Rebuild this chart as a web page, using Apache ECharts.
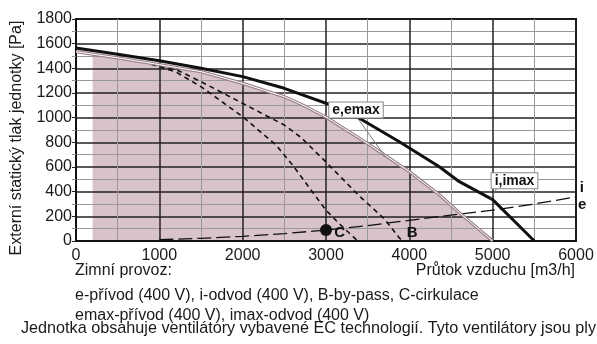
<!DOCTYPE html>
<html>
<head>
<meta charset="utf-8">
<script src="https://cdn.jsdelivr.net/npm/echarts@6/dist/echarts.min.js"></script>
<style>
html, body { margin: 0; padding: 0; background: #fff; }
#chart { width: 597px; height: 344px; }
</style>
</head>
<body>
<div id="chart"></div>
<script>
// hodnoty [m3/h, Pa]
const imaxCurve = [[0,1565],[500,1515],[1000,1462],[1500,1400],[2000,1333],[2500,1238],[2700,1189],[3000,1117],[3400,995],[3880,805],[4360,602],[4600,481],[5000,335],[5500,0]];
const emaxCurve = [[0,1535],[200,1515],[500,1485],[1000,1430],[1500,1373],[2000,1278],[2500,1170],[2700,1110],[3000,1005],[3500,790],[4000,563],[4360,375],[4600,230],[5000,0]];
const bypassCurve = [[900,1436],[1200,1390],[1500,1292],[2000,1116],[2500,940],[2700,840],[3000,640],[3400,365],[3700,180],[3880,25],[3920,0]];
const circCurve = [[900,1434],[1200,1370],[1500,1251],[2000,1008],[2400,778],[2600,615],[2840,395],[3000,250],[3160,140],[3380,0]];
const systemCurve = [[1000,10],[1500,22],[2000,38],[2500,60],[3000,89],[3500,125],[4000,168],[4500,210],[5000,250],[5500,300],[6000,358]];
const circPoint = [[3000,89]];

// popisky a odkazové čáry
const boxNotes = [
    {name: 'e,emax', value: [3360,1062]},
    {name: 'i,imax', value: [5262,488]}
];
const plainNotes = [
    {name: 'i', value: [6070,430]},
    {name: 'e', value: [6075,296]},
    {name: 'B', value: [4035,62]},
    {name: 'C', value: [3165,62]}
];
const emaxLeader = [[3378,997],[3714,681]];
const imaxLeader = [[5060,440],[4975,342]];

const font = "'Liberation Sans', Arial, sans-serif";
const fillStart = 200;

const chart = echarts.init(document.getElementById('chart'));

function dashed(data, width, dash, z) {
    return {
        type: 'line', data: data, symbol: 'none', z: z, silent: true,
        lineStyle: {color: '#111', width: width, type: dash}
    };
}

const axisCommon = {
    type: 'value',
    z: 2,
    axisLine: {show: true, lineStyle: {color: '#111', width: 2}},
    axisLabel: {fontSize: 16, color: '#1a1a1a', fontFamily: font, formatter: function (v) { return String(v); }},
    splitLine: {show: true, lineStyle: {color: '#222', width: 1.5}},
    minorSplitLine: {show: true, lineStyle: {color: '#999', width: 1}}
};

const option = {
    animation: false,
    textStyle: {fontFamily: font},
    grid: {left: 76, right: 21, top: 19, bottom: 103, show: true, borderColor: '#111', borderWidth: 2, z: 2},
    xAxis: Object.assign({}, axisCommon, {
        min: 0, max: 6000, interval: 1000,
        axisTick: {show: false},
        minorTick: {show: false, splitNumber: 2},
        axisLabel: Object.assign({}, axisCommon.axisLabel, {margin: 7})
    }),
    yAxis: Object.assign({}, axisCommon, {
        min: 0, max: 1800, interval: 200,
        axisTick: {show: true, length: 4, lineStyle: {color: '#222'}},
        minorTick: {show: true, splitNumber: 2, length: 4, lineStyle: {color: '#999'}},
        axisLabel: Object.assign({}, axisCommon.axisLabel, {margin: 4})
    }),
    series: [
        {   // pracovní oblast
            type: 'line', symbol: 'none', z: 1, silent: true,
            data: emaxCurve.filter(function (p) { return p[0] >= fillStart; }),
            lineStyle: {width: 0},
            areaStyle: {color: '#d9c3ca', opacity: 1}
        },
        dashed(bypassCurve, 1.6, [5, 4], 3),
        dashed(circCurve, 1.6, [5, 4], 3),
        dashed(systemCurve, 1.3, [14, 5], 3),
        {type: 'line', data: emaxCurve, symbol: 'none', z: 4, silent: true, lineStyle: {color: '#9a8189', width: 3.2}},
        {type: 'line', data: emaxCurve, symbol: 'none', z: 4, silent: true, lineStyle: {color: '#fff', width: 1}},
        {type: 'line', data: imaxCurve, symbol: 'none', z: 5, silent: true, lineStyle: {color: '#111', width: 3}},
        {type: 'line', data: emaxLeader, symbol: 'none', z: 5, silent: true, lineStyle: {color: '#777', width: 1}},
        {type: 'line', data: imaxLeader, symbol: 'none', z: 5, silent: true, lineStyle: {color: '#777', width: 1}},
        {type: 'scatter', data: circPoint, symbolSize: 12, z: 6, itemStyle: {color: '#111', opacity: 1}, silent: true},
        {
            type: 'scatter', data: boxNotes, symbolSize: 0, z: 7, clip: false, silent: true,
            itemStyle: {opacity: 1},
            label: {
                show: true, position: 'inside', formatter: '{b}',
                fontSize: 14, fontWeight: 'bold', color: '#111',
                backgroundColor: '#fff', borderColor: '#888', borderWidth: 1, padding: [1, 3, 0, 3]
            }
        },
        {
            type: 'scatter', data: plainNotes, symbolSize: 0, z: 7, clip: false, silent: true,
            itemStyle: {opacity: 1},
            label: {show: true, position: 'inside', formatter: '{b}', fontSize: 15, fontWeight: 'bold', color: '#111'}
        }
    ],
    graphic: [
        {type: 'text', x: 17, y: 138, rotation: Math.PI / 2,
            style: {text: 'Externí statický tlak jednotky [Pa]', font: '16px ' + font, fill: '#1a1a1a', align: 'center', verticalAlign: 'middle'}},
        {type: 'text', x: 75, y: 271,
            style: {text: 'Zimní provoz:', font: '16px ' + font, fill: '#1a1a1a', verticalAlign: 'middle'}},
        {type: 'text', x: 575, y: 271,
            style: {text: 'Průtok vzduchu [m3/h]', font: '16px ' + font, fill: '#1a1a1a', align: 'right', verticalAlign: 'middle'}},
        {type: 'text', x: 75, y: 296,
            style: {text: 'e-přívod (400 V), i-odvod (400 V), B-by-pass, C-cirkulace', font: '16px ' + font, fill: '#1a1a1a', verticalAlign: 'middle'}},
        {type: 'text', x: 75, y: 316,
            style: {text: 'emax-přívod (400 V), imax-odvod (400 V)', font: '16px ' + font, fill: '#1a1a1a', verticalAlign: 'middle'}},
        {type: 'text', x: 21, y: 329,
            style: {text: 'Jednotka obsahuje ventilátory vybavené EC technologií. Tyto ventilátory jsou plynule', font: '16.2px ' + font, fill: '#1a1a1a', verticalAlign: 'middle'}}
    ]
};

chart.setOption(option);
</script>
</body>
</html>
